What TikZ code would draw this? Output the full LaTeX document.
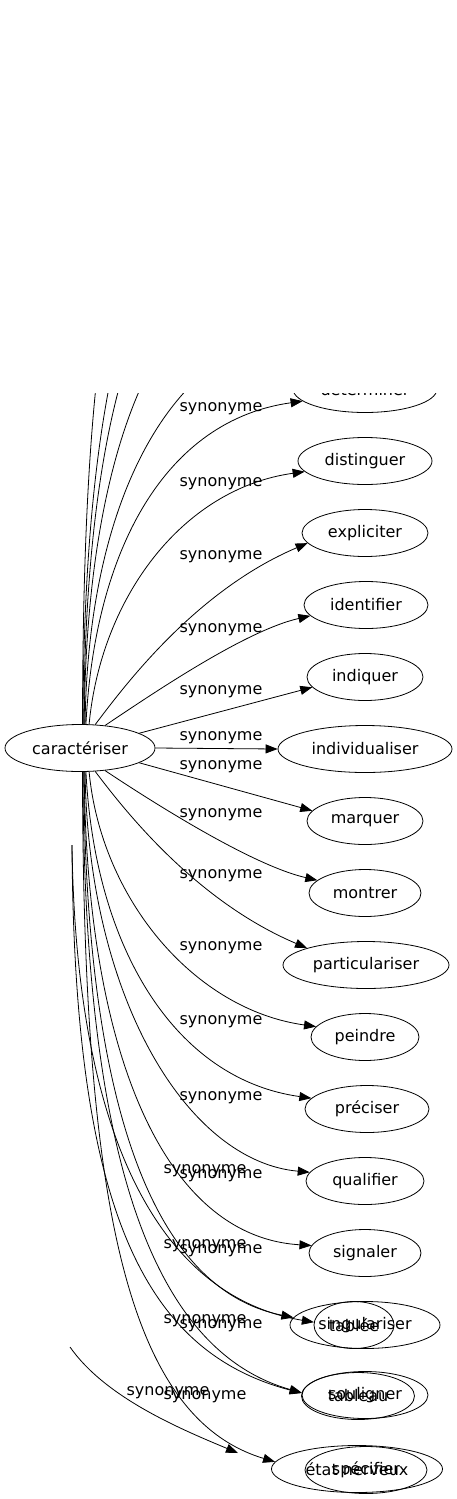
\documentclass[tikz,border=0pt]{standalone}
\usepackage{fontspec}
\setmainfont{DejaVu Sans}
\usetikzlibrary{shapes.geometric, arrows.meta}

\begin{document}
\begin{tikzpicture}[x=1pt, y=-1pt, line width=0.8pt, font=\fontsize{16}{19}\selectfont]
  \tikzstyle{mot} = [draw, ellipse, minimum height=47pt, inner sep=0pt]
  \tikzstyle{syn} = [->, >={Triangle[length=12pt, width=9pt]}]
  \tikzstyle{lbl} = [inner sep=0pt]
  \useasboundingbox (0,0) rectangle (456,1499);
  \clip (0,393) rectangle (456,1499);
  % noeud central
  \node[mot, minimum width=150pt] (car) at (80,748) {caractériser};
  % synonymes
  \node[mot, minimum width=144pt] (determiner) at (365,389) {déterminer};
  \node[mot, minimum width=134pt] (distinguer) at (365,461) {distinguer};
  \node[mot, minimum width=126pt] (expliciter) at (365,533) {expliciter};
  \node[mot, minimum width=124pt] (identifier) at (366,605) {identifier};
  \node[mot, minimum width=116pt] (indiquer) at (365,677) {indiquer};
  \node[mot, minimum width=174pt] (individualiser) at (365,749) {individualiser};
  \node[mot, minimum width=116pt] (marquer) at (365,821) {marquer};
  \node[mot, minimum width=112pt] (montrer) at (365,893) {montrer};
  \node[mot, minimum width=166pt] (particulariser) at (366,965) {particulariser};
  \node[mot, minimum width=108pt] (peindre) at (365,1037) {peindre};
  \node[mot, minimum width=124pt] (preciser) at (367,1109) {préciser};
  \node[mot, minimum width=118pt] (qualifier) at (365,1181) {qualifier};
  \node[mot, minimum width=112pt] (signaler) at (365,1253) {signaler};
  \node[mot, minimum width=150pt] (singulariser) at (365,1325) {singulariser};
  \node[mot, minimum width=80pt] (tablee) at (354,1325) {tablée};
  \node[mot, minimum width=126pt] (souligner) at (365,1395) {souligner};
  \node[mot, minimum width=113pt] (tableau) at (358,1396) {tableau};
  \node[mot, minimum width=171pt] (etat) at (357,1469) {état nerveux};
  \node[mot, minimum width=122pt] (specifier) at (366,1470) {spécifier};
  % extremites libres
  \coordinate (haut1) at (307,328);
  \coordinate (haut2) at (309,255);
  \coordinate (haut3) at (292,181);
  \coordinate (haut4) at (302,103);
  \coordinate (haut5) at (272,37);
  \coordinate (bas1) at (72,845);
  \coordinate (bas2) at (70,1347);
  \coordinate (bas3) at (238,1453);
  % aretes vers le haut
  \draw[syn] (car.84) .. controls +(0.5,-427) and +(-150,45) .. (haut5);
  \draw[syn] (car.83) .. controls +(1,-357) and +(-160,45) .. (haut4);
  \draw[syn] (car.81) .. controls +(1.5,-307) and +(-150,30) .. (haut3);
  \draw[syn] (car.80) .. controls +(2,-277) and +(-149,9) .. (haut2);
  \draw[syn] (car.78) .. controls +(3,-227) and +(-135,20) .. (haut1);
  \draw[syn] (car.76) .. controls +(9,-177) and +(-136,19) .. (determiner.191);
  \draw[syn] (car.69) .. controls +(12,-127) and +(-122,17) .. (distinguer.190);
  \draw[syn] (car.57) .. controls +(28,-37) and +(-113,48) .. (expliciter.190);
  \draw[syn] (car.42) .. controls +(45,-30) and +(-66,15) .. (identifier.191);
  \draw[syn] (car.14) -- (indiquer.191);
  \draw[syn] (car.east) -- (individualiser.west);
  % aretes vers le bas
  \draw[syn] (car.-14) -- (marquer.169);
  \draw[syn] (car.-42) .. controls +(45,30) and +(-66,-15) .. (montrer.165);
  \draw[syn] (car.-57) .. controls +(28,37) and +(-113,-48) .. (particulariser.164);
  \draw[syn] (car.-69) .. controls +(12,127) and +(-122,-17) .. (peindre.168);
  \draw[syn] (car.-76) .. controls +(9,177) and +(-136,-19) .. (preciser.169);
  \draw[syn] (car.-78) .. controls +(3,227) and +(-122,-11) .. (qualifier.171);
  \draw[syn] (car.-80) .. controls +(2,277) and +(-149,-9) .. (signaler.172);
  \draw[syn] (car.-81) .. controls +(1.5,307) and +(-150,-30) .. (singulariser.174);
  \draw[syn] (car.-83) .. controls +(1,357) and +(-160,-45) .. (souligner.178);
  \draw[syn] (car.-84) .. controls +(0.5,427) and +(-150,-45) .. (etat.175);
  \draw[syn] (bas1) .. controls +(4,300) and +(-150,-25) .. (tablee.176);
  \draw[syn] (bas1) .. controls +(2,360) and +(-160,-42) .. (tableau.177);
  \draw[syn] (bas2) .. controls +(35,50) and +(-60,-25) .. (bas3);
  % etiquettes
  \node[lbl] (l1) at (221,409) {synonyme};
  \node[lbl] (l2) at (221,484) {synonyme};
  \node[lbl] (l3) at (221,557) {synonyme};
  \node[lbl] (l4) at (221,630) {synonyme};
  \node[lbl] (l5) at (221,692) {synonyme};
  \node[lbl] (l6) at (221,738) {synonyme};
  \node[lbl] (l7) at (221,767) {synonyme};
  \node[lbl] (l8) at (221,815) {synonyme};
  \node[lbl] (l9) at (221,876) {synonyme};
  \node[lbl] (l10) at (221,948) {synonyme};
  \node[lbl] (l11) at (221,1022) {synonyme};
  \node[lbl] (l12) at (221,1098) {synonyme};
  \node[lbl] (l13a) at (205,1171) {synonyme};
  \node[lbl] (l13b) at (221,1176) {synonyme};
  \node[lbl] (l14a) at (205,1246) {synonyme};
  \node[lbl] (l14b) at (221,1251) {synonyme};
  \node[lbl] (l15a) at (205,1321) {synonyme};
  \node[lbl] (l15b) at (221,1326) {synonyme};
  \node[lbl] (l16a) at (168,1393) {synonyme};
  \node[lbl] (l16b) at (205,1397) {synonyme};
\end{tikzpicture}
\end{document}
